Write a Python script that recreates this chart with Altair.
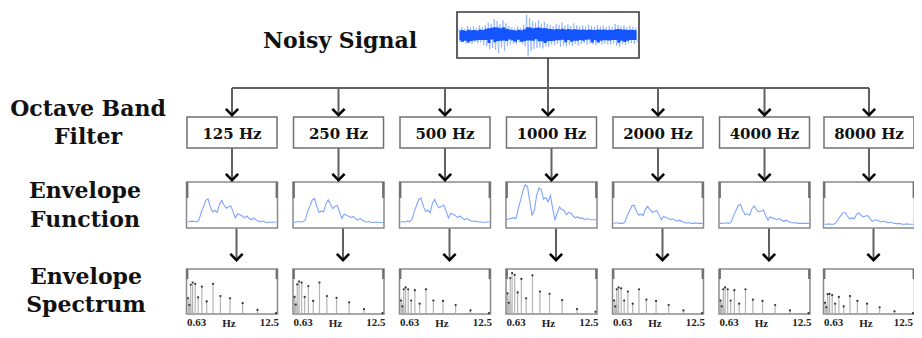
import altair as alt
import pandas as pd

# ---------------- data ----------------
bands = ["125 Hz", "250 Hz", "500 Hz", "1000 Hz", "2000 Hz", "4000 Hz", "8000 Hz"]

# envelope functions (normalised amplitude, 40 equally spaced time samples)
env_125 = [0.13, 0.14, 0.15, 0.14, 0.13, 0.17, 0.34, 0.46, 0.60, 0.63, 0.46, 0.35, 0.38, 0.34, 0.52, 0.60, 0.50, 0.43, 0.46, 0.48,
           0.35, 0.22, 0.31, 0.29, 0.26, 0.22, 0.26, 0.21, 0.18, 0.22, 0.18, 0.15, 0.13, 0.15, 0.13, 0.12, 0.13, 0.12, 0.13, 0.13]
env_250 = [0.12, 0.13, 0.14, 0.13, 0.14, 0.18, 0.36, 0.48, 0.61, 0.64, 0.47, 0.34, 0.37, 0.35, 0.53, 0.61, 0.51, 0.42, 0.47, 0.49,
           0.34, 0.21, 0.30, 0.28, 0.25, 0.23, 0.25, 0.20, 0.17, 0.21, 0.17, 0.14, 0.13, 0.14, 0.12, 0.12, 0.13, 0.12, 0.12, 0.12]
env_500 = [0.13, 0.14, 0.13, 0.15, 0.14, 0.18, 0.35, 0.49, 0.62, 0.65, 0.47, 0.36, 0.39, 0.33, 0.54, 0.62, 0.50, 0.44, 0.47, 0.50,
           0.36, 0.22, 0.32, 0.30, 0.27, 0.23, 0.26, 0.22, 0.18, 0.21, 0.18, 0.15, 0.14, 0.15, 0.13, 0.13, 0.13, 0.12, 0.13, 0.13]
env_1000 = [0.18, 0.20, 0.21, 0.22, 0.21, 0.43, 0.61, 0.81, 0.94, 0.90, 0.57, 0.28, 0.39, 0.71, 0.87, 0.83, 0.63, 0.66, 0.57, 0.71,
            0.43, 0.18, 0.32, 0.46, 0.40, 0.38, 0.29, 0.34, 0.32, 0.26, 0.22, 0.24, 0.21, 0.22, 0.18, 0.20, 0.19, 0.18, 0.18, 0.18]
env_2000 = [0.10, 0.11, 0.11, 0.10, 0.10, 0.13, 0.27, 0.37, 0.48, 0.50, 0.37, 0.28, 0.30, 0.27, 0.41, 0.47, 0.40, 0.34, 0.36, 0.38,
            0.28, 0.18, 0.25, 0.23, 0.21, 0.18, 0.20, 0.17, 0.15, 0.17, 0.14, 0.12, 0.11, 0.12, 0.10, 0.10, 0.11, 0.10, 0.10, 0.10]
env_4000 = [0.10, 0.10, 0.11, 0.11, 0.10, 0.14, 0.28, 0.38, 0.49, 0.51, 0.38, 0.29, 0.31, 0.28, 0.42, 0.48, 0.40, 0.35, 0.37, 0.39,
            0.27, 0.17, 0.24, 0.22, 0.20, 0.18, 0.21, 0.17, 0.14, 0.17, 0.14, 0.12, 0.11, 0.12, 0.10, 0.10, 0.10, 0.10, 0.10, 0.10]
env_8000 = [0.08, 0.08, 0.09, 0.08, 0.08, 0.11, 0.19, 0.26, 0.32, 0.34, 0.26, 0.20, 0.22, 0.20, 0.29, 0.33, 0.28, 0.24, 0.26, 0.27,
            0.20, 0.14, 0.18, 0.17, 0.15, 0.13, 0.15, 0.13, 0.11, 0.13, 0.11, 0.10, 0.09, 0.10, 0.08, 0.08, 0.09, 0.08, 0.08, 0.08]
envelopes = [env_125, env_250, env_500, env_1000, env_2000, env_4000, env_8000]

# envelope spectra at the 14 modulation frequencies (Hz)
mod_freqs = [0.63, 0.8, 1.0, 1.25, 1.6, 2.0, 2.5, 3.15, 4.0, 5.0, 6.3, 8.0, 10.0, 12.5]
spec_125 = [0.35, 0.20, 0.65, 0.70, 0.67, 0.37, 0.61, 0.28, 0.67, 0.40, 0.35, 0.24, 0.09, 0.02]
spec_250 = [0.38, 0.21, 0.66, 0.72, 0.70, 0.38, 0.62, 0.29, 0.70, 0.40, 0.36, 0.26, 0.11, 0.02]
spec_500 = [0.30, 0.17, 0.55, 0.59, 0.55, 0.30, 0.53, 0.23, 0.55, 0.30, 0.29, 0.20, 0.08, 0.02]
spec_1000 = [0.46, 0.25, 0.80, 0.91, 0.87, 0.48, 0.78, 0.35, 0.86, 0.50, 0.45, 0.31, 0.11, 0.05]
spec_2000 = [0.30, 0.17, 0.55, 0.59, 0.57, 0.30, 0.50, 0.23, 0.55, 0.32, 0.29, 0.20, 0.08, 0.02]
spec_4000 = [0.30, 0.17, 0.55, 0.59, 0.55, 0.30, 0.53, 0.23, 0.55, 0.32, 0.29, 0.20, 0.08, 0.02]
spec_8000 = [0.25, 0.15, 0.44, 0.45, 0.42, 0.23, 0.38, 0.17, 0.40, 0.29, 0.23, 0.15, 0.06, 0.02]
spectra = [spec_125, spec_250, spec_500, spec_1000, spec_2000, spec_4000, spec_8000]

# dense low-frequency part of each spectrum (light grey fill)
low_freqs = [0.63, 0.75, 0.85, 1.0, 1.15, 1.3, 1.45]
low_125 = [0.42, 0.38, 0.33, 0.28, 0.20, 0.10, 0.0]
low_250 = [0.44, 0.40, 0.34, 0.29, 0.21, 0.10, 0.0]
low_500 = [0.38, 0.34, 0.30, 0.25, 0.18, 0.09, 0.0]
low_1000 = [0.50, 0.46, 0.40, 0.34, 0.24, 0.12, 0.0]
low_2000 = [0.36, 0.32, 0.28, 0.24, 0.17, 0.08, 0.0]
low_4000 = [0.36, 0.32, 0.28, 0.24, 0.17, 0.08, 0.0]
low_8000 = [0.30, 0.27, 0.24, 0.20, 0.14, 0.07, 0.0]
lows = [low_125, low_250, low_500, low_1000, low_2000, low_4000, low_8000]

# noisy signal: per-column peak excursions (fraction of half-height) and dense core
noise_top = [0.30, 0.36, 0.28, 0.40, 0.33, 0.38, 0.30, 0.42, 0.35,
             0.45, 0.55, 0.50, 0.70, 0.62, 0.48, 0.66, 0.52, 0.40,
             0.35, 0.30, 0.38, 0.32, 0.45,
             0.90, 0.75, 0.60, 0.55, 0.65, 0.50, 0.58, 0.48, 0.45,
             0.40, 0.50, 0.45, 0.55, 0.42, 0.48, 0.40, 0.52, 0.44,
             0.38, 0.42, 0.36, 0.45, 0.40, 0.35, 0.44, 0.38, 0.42, 0.36,
             0.40, 0.36, 0.50, 0.44, 0.38, 0.42, 0.35, 0.40, 0.37, 0.33]
noise_bottom = [0.32, 0.30, 0.38, 0.34, 0.40, 0.31, 0.36, 0.33, 0.45,
                0.50, 0.62, 0.58, 0.66, 0.80, 0.55, 0.70, 0.48, 0.42,
                0.38, 0.42, 0.33, 0.40, 0.50,
                0.95, 0.70, 0.62, 0.58, 0.55, 0.60, 0.50, 0.52, 0.42,
                0.45, 0.40, 0.52, 0.46, 0.50, 0.42, 0.48, 0.40, 0.46,
                0.40, 0.36, 0.44, 0.38, 0.42, 0.46, 0.37, 0.43, 0.39, 0.41,
                0.42, 0.38, 0.48, 0.52, 0.40, 0.44, 0.38, 0.36, 0.40, 0.34]
noise_core = [0.20, 0.22, 0.19, 0.23, 0.21, 0.22, 0.20, 0.24, 0.22,
              0.28, 0.30, 0.32, 0.35, 0.33, 0.30, 0.34, 0.28, 0.25,
              0.22, 0.20, 0.23, 0.21, 0.26,
              0.35, 0.33, 0.30, 0.32, 0.33, 0.30, 0.31, 0.28, 0.27,
              0.25, 0.27, 0.26, 0.28, 0.25, 0.27, 0.24, 0.26, 0.25,
              0.23, 0.24, 0.22, 0.25, 0.23, 0.22, 0.24, 0.23, 0.24, 0.22,
              0.23, 0.22, 0.26, 0.27, 0.24, 0.25, 0.22, 0.23, 0.22, 0.21]

row_labels = ["Noisy Signal", "Octave Band", "Filter", "Envelope", "Function", "Envelope", "Spectrum"]
axis_min_label, axis_max_label, axis_unit = "0.63", "12.5", "Hz"

# ---------------- layout (pixel canvas) ----------------
COLS = [232, 338.5, 445, 551.5, 658, 764.5, 869]
TRUNK_X = 548
SIG = dict(x0=457, x1=639, y0=12, y1=58)
BUS_Y = 88
BOX = dict(hw=45, y0=117, y1=148)
FUN = dict(hw=45.5, y0=182, y1=228)
SPE = dict(hw=45.5, y0=269, y1=314)
LOW_SHIFT = 4.5
LOW_TIP = 262
TITLE_POS = [(340, 48), (88, 116), (88, 144), (85, 198), (85, 227), (86, 284), (86, 312)]
NUM_BASE, UNIT_BASE = 325.5, 327

xs = alt.Scale(domain=[8, 914], nice=False, zero=False)
ys = alt.Scale(domain=[8, 330], nice=False, zero=False, reverse=True)


def XY(chart, x2=False, y2=False, **extra):
    enc = dict(x=alt.X("x:Q", scale=xs, axis=None), y=alt.Y("y:Q", scale=ys, axis=None))
    if x2:
        enc["x2"] = alt.X2("x2:Q")
    if y2:
        enc["y2"] = alt.Y2("y2:Q")
    enc.update(extra)
    return chart.encode(**enc)


# connectors
conn = [dict(x=TRUNK_X, x2=TRUNK_X, y=SIG["y1"], y2=BUS_Y),
        dict(x=COLS[0], x2=COLS[-1], y=BUS_Y, y2=BUS_Y)]
tips = []
for i, c in enumerate(COLS):
    xa = TRUNK_X if i == 3 else c
    conn.append(dict(x=xa, x2=xa, y=BUS_Y, y2=BOX["y0"] - 3))
    tips.append(dict(x=xa, y=BOX["y0"] - 5))
    conn.append(dict(x=c, x2=c, y=BOX["y1"], y2=FUN["y0"] - 3))
    tips.append(dict(x=c, y=FUN["y0"] - 5))
    xl = c + LOW_SHIFT
    conn.append(dict(x=xl, x2=xl, y=FUN["y1"], y2=LOW_TIP - 3))
    tips.append(dict(x=xl, y=LOW_TIP - 5))
conn_df = pd.DataFrame(conn)
tips_df = pd.DataFrame(tips)

# boxes
sig_box = pd.DataFrame([dict(x=SIG["x0"], x2=SIG["x1"], y=SIG["y0"], y2=SIG["y1"])])
band_boxes = pd.DataFrame([dict(x=c - BOX["hw"], x2=c + BOX["hw"], y=BOX["y0"], y2=BOX["y1"]) for c in COLS])
panels = []
panel_ticks = []
for c in COLS:
    for P, tl in ((FUN, 16), (SPE, 10)):
        panels.append(dict(x=c - P["hw"], x2=c + P["hw"], y=P["y0"], y2=P["y1"]))
        for xe in (c - P["hw"] + 0.8, c + P["hw"] - 0.8):
            panel_ticks.append(dict(x=xe, x2=xe, y=P["y0"], y2=P["y0"] + tl))
panels_df = pd.DataFrame(panels)
pticks_df = pd.DataFrame(panel_ticks)

# noisy signal: zig-zag waveform between peak excursions + dense core band
n = len(noise_top)
cy = (SIG["y0"] + SIG["y1"]) / 2
hh = (SIG["y1"] - SIG["y0"]) / 2 - 0.5
step = (SIG["x1"] - SIG["x0"] - 2) / n
wave_rows, core_rows = [], []
for i in range(n):
    xc = SIG["x0"] + 1 + step * (i + 0.5)
    wave_rows.append(dict(o=2 * i, x=xc - step / 4, y=cy - noise_top[i] * hh))
    wave_rows.append(dict(o=2 * i + 1, x=xc + step / 4, y=cy + noise_bottom[i] * hh))
    core_rows.append(dict(x=xc, y=cy - noise_core[i] * hh, y2=cy + noise_core[(i * 7 + 3) % n] * hh))
wave_df = pd.DataFrame(wave_rows)
core_df = pd.DataFrame(core_rows)

# envelopes
env_rows = []
for b, c, vals in zip(bands, COLS, envelopes):
    x0, x1 = c - FUN["hw"] + 1, c + FUN["hw"] - 1
    h = FUN["y1"] - FUN["y0"]
    m = len(vals)
    for k, v in enumerate(vals):
        env_rows.append(dict(band=b, x=x0 + (x1 - x0) * k / (m - 1), y=FUN["y1"] - v * h))
env_df = pd.DataFrame(env_rows)

# spectra
stem_rows, low_rows = [], []
fmin, fmax = mod_freqs[0], mod_freqs[-1]
for b, c, vals, lv in zip(bands, COLS, spectra, lows):
    x0, x1 = c - SPE["hw"] + 1.5, c + SPE["hw"] - 1.5
    h = SPE["y1"] - SPE["y0"]
    for f, v in zip(mod_freqs, vals):
        stem_rows.append(dict(band=b, x=x0 + (x1 - x0) * (f - fmin) / (fmax - fmin),
                              y=SPE["y1"] - 1, y2=SPE["y1"] - v * h))
    for f, v in zip(low_freqs, lv):
        low_rows.append(dict(band=b, x=x0 + (x1 - x0) * (f - fmin) / (fmax - fmin),
                             y=SPE["y1"] - 1, y2=SPE["y1"] - v * h))
stem_df = pd.DataFrame(stem_rows)
tops_df = stem_df[["band", "x", "y2"]].rename(columns={"y2": "y"})
low_df = pd.DataFrame(low_rows)

# texts
big_txt = pd.DataFrame([dict(text=t, x=p[0], y=p[1]) for t, p in zip(row_labels, TITLE_POS)])
band_txt = pd.DataFrame([dict(text=b, x=c, y=138.5) for c, b in zip(COLS, bands)])
ax_left = pd.DataFrame([dict(text=axis_min_label, x=c - SPE["hw"] + 0.5, y=NUM_BASE) for c in COLS])
ax_right = pd.DataFrame([dict(text=axis_max_label, x=min(c + SPE["hw"] + 1.5, 913), y=NUM_BASE) for c in COLS])
ax_unit = pd.DataFrame([dict(text=axis_unit, x=c - 3, y=UNIT_BASE) for c in COLS])

# ---------------- layers ----------------
serif_big = dict(font="DejaVu Serif", fontWeight="bold", color="#111111", baseline="alphabetic")
serif_small = dict(font="Liberation Serif", fontWeight="bold", fontSize=11, color="#222222", baseline="alphabetic")

L = []
L.append(XY(alt.Chart(conn_df).mark_rule(color="#606060", strokeWidth=2), x2=True, y2=True))
L.append(XY(alt.Chart(sig_box).mark_rect(fill="white", stroke="#3a3a3a", strokeWidth=1.6), x2=True, y2=True))
L.append(XY(alt.Chart(wave_df).mark_line(color="#5a8cff", strokeWidth=0.9, opacity=0.55), order="o:Q"))
L.append(XY(alt.Chart(core_df).mark_area(color="#0a4dff", opacity=0.95, interpolate="step"), y2=True))
L.append(XY(alt.Chart(band_boxes).mark_rect(fill="white", stroke="#707070", strokeWidth=1.5), x2=True, y2=True))
L.append(XY(alt.Chart(panels_df).mark_rect(fill="white", stroke="#8a8a8a", strokeWidth=1.5), x2=True, y2=True))
L.append(XY(alt.Chart(pticks_df).mark_rule(color="#707070", strokeWidth=2.2), x2=True, y2=True))
L.append(XY(alt.Chart(env_df).mark_line(color="#7ea4ff", strokeWidth=1.1), detail="band:N"))
L.append(XY(alt.Chart(low_df).mark_area(color="#dcdcdc", opacity=1), y2=True, detail="band:N"))
L.append(XY(alt.Chart(stem_df).mark_rule(color="#b4b4b4", strokeWidth=1.2), y2=True))
L.append(XY(alt.Chart(tops_df).mark_point(shape="circle", filled=True, size=5, color="#333333", opacity=1)))
L.append(XY(alt.Chart(tips_df).mark_point(shape="M-1,-0.5L0,0.5L1,-0.5", filled=False, size=150,
                                          stroke="black", strokeWidth=2.6, opacity=1)))
L.append(XY(alt.Chart(big_txt).mark_text(fontSize=22, align="center", **serif_big), text="text:N"))
L.append(XY(alt.Chart(band_txt).mark_text(fontSize=15, align="center", **serif_big), text="text:N"))
L.append(XY(alt.Chart(ax_left).mark_text(align="left", **serif_small), text="text:N"))
L.append(XY(alt.Chart(ax_right).mark_text(align="right", **serif_small), text="text:N"))
L.append(XY(alt.Chart(ax_unit).mark_text(align="center", **serif_small), text="text:N"))

chart = alt.layer(*L).properties(
    width=906, height=322,
    autosize=alt.AutoSizeParams(type="none"),
    padding=0,
    background="white",
).configure_view(stroke=None)

chart.save("out.html", embed_options={"renderer": "svg", "actions": False})
